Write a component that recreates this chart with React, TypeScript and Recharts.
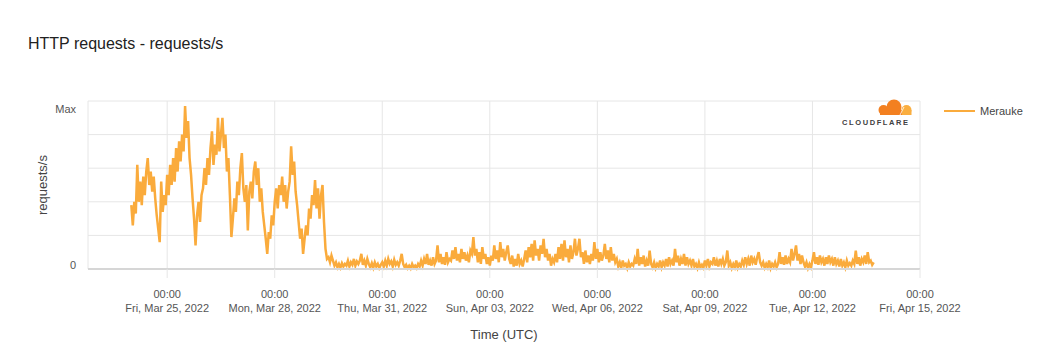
import React from "react";
import { LineChart, Line, XAxis, YAxis, CartesianGrid } from "recharts";

// hourly readings from Mar 24 00:00 UTC (share of max, 0-100)
const peakStart = Date.UTC(2022, 2, 24, 0);
const peakValues = [
  38, 26, 40, 33, 62, 40, 52, 38, 55, 44, 58, 66, 50, 58, 46, 55, 42, 32, 24, 16, 52, 34, 44, 38,
  56, 44, 62, 50, 66, 52, 72, 58, 76, 64, 80, 70, 97, 78, 88, 66, 56, 42, 30, 14,
  32, 40, 28, 44, 48, 60, 50, 66, 56, 72, 82, 62, 74, 68, 90, 70, 80, 90, 72,
  80, 58, 66, 44, 19, 30, 42, 34, 52, 44, 60, 69, 48, 40, 50, 23, 46, 52, 42, 58, 64, 50, 60, 40,
  48, 34, 26, 18, 9, 22, 18, 32, 26, 40, 48, 36, 50, 44, 55, 40, 50, 36, 46, 52, 73, 56, 64, 46,
  38, 28, 18, 24, 9, 18, 26, 20, 36, 30, 44, 38, 53, 36, 48, 30, 44, 50, 28, 12, 6,
];

// hourly readings after the drop, from Mar 29 12:00 UTC
const lowStart = Date.UTC(2022, 2, 29, 12);
const lowValues = [
  7, 4, 8, 5, 2, 4, 1, 3, 0.8, 3.5, 1.5, 3, 2, 5, 1.5, 4, 2.5, 6, 2, 4.5, 3, 5, 9, 2.5,
  5, 2, 6, 3, 1, 3.5, 0.8, 4, 1.5, 3, 0.6, 2.5, 4, 1.5, 5, 2, 6, 3, 4.5, 1.5, 5.5, 2.5, 4, 2,
  5, 9, 3, 1, 2.5, 0.5, 2, 0.4, 3, 1, 2, 0.5, 3, 1.5, 5, 2, 6, 3, 9, 2.5, 5, 2, 7, 3,
  5, 14, 4, 9, 3, 7, 2.5, 10, 4, 6, 5, 11, 6, 13, 5, 9, 4, 12, 6, 10, 5, 8, 4, 11,
  9, 19, 8, 12, 4, 10, 3, 13, 6, 9, 3, 7, 2, 8, 5, 14, 6, 11, 4, 16, 7, 12, 5, 10,
  14, 6, 3, 8, 1.5, 6, 2, 9, 3, 5, 1.5, 6, 11, 4, 13, 7, 15, 5, 17, 8, 12, 5, 14, 9,
  18, 7, 12, 5, 9, 2, 6, 4, 9, 4, 13, 6, 15, 5, 17, 7, 12, 4, 14, 6, 10, 18, 8, 12,
  18, 7, 10, 3, 11, 4, 8, 3, 9, 5, 16, 6, 12, 4, 10, 5, 8, 15, 6, 11, 4, 13, 5, 9,
  4, 6, 1.5, 4, 0.8, 5, 2, 3, 0.5, 4, 1.5, 3, 2, 6, 3, 12, 2, 7, 3, 8, 1.5, 5, 2, 11,
  3, 1, 4, 0.6, 3, 1.5, 5, 1, 4, 2, 6, 1.5, 7, 3, 5, 2, 12, 4, 8, 2, 6, 3, 9, 2,
  7, 3, 5, 2, 6, 1.5, 3, 0.6, 4, 1, 2.5, 0.8, 5, 2, 6, 1.5, 4, 3, 7, 2, 5, 1.5, 6, 3,
  6, 2, 4, 11, 2, 4, 0.6, 3, 1, 5, 0.8, 3, 1.5, 5, 2.5, 7, 3, 6, 2, 8, 4, 6, 2.5, 7,
  10, 4, 2, 4, 0.8, 3, 1, 5, 0.5, 3, 1.5, 4, 1, 3, 10, 3, 7, 2.5, 8, 3, 6, 4, 12, 5,
  9, 14, 5, 9, 3, 8, 4, 1.5, 4, 0.6, 3, 1, 5, 10, 3, 7, 2.5, 8, 4, 6, 2, 7, 3, 8,
  4, 6, 2, 7, 3, 5, 1.5, 6, 2, 4, 1, 5, 2, 3.5, 2, 5, 3, 11, 3, 7, 2, 6, 4, 8,
  3, 10, 4, 5, 2.5, 4,
];

const xTicks = [
  Date.UTC(2022, 2, 25), Date.UTC(2022, 2, 28), Date.UTC(2022, 2, 31), Date.UTC(2022, 3, 3),
  Date.UTC(2022, 3, 6), Date.UTC(2022, 3, 9), Date.UTC(2022, 3, 12), Date.UTC(2022, 3, 15),
];
const xTickLabels = [
  "Fri, Mar 25, 2022", "Mon, Mar 28, 2022", "Thu, Mar 31, 2022", "Sun, Apr 03, 2022",
  "Wed, Apr 06, 2022", "Sat, Apr 09, 2022", "Tue, Apr 12, 2022", "Fri, Apr 15, 2022",
];
const yTicks = [0, 20, 40, 60, 80, 100];

const HOUR = 3600000;
const data = [
  ...peakValues.map((v, i) => ({ t: peakStart + i * HOUR, v })),
  ...lowValues.map((v, i) => ({ t: lowStart + i * HOUR, v })),
];

const FONT = '"Liberation Sans", Arial, Helvetica, sans-serif';
const ORANGE = "#faab3c";

const XTick = (props: any) => {
  const { x, y, payload } = props;
  const idx = xTicks.indexOf(payload.value);
  return (
    <g transform={`translate(${x},${y})`}>
      <text textAnchor="middle" fill="#555" fontSize={11} fontFamily={FONT}>
        <tspan x={0} dy={18}>00:00</tspan>
        <tspan x={0} dy={14}>{xTickLabels[idx]}</tspan>
      </text>
    </g>
  );
};

const YTick = (props: any) => {
  const { x, y, payload } = props;
  if (payload.value !== 0 && payload.value !== 100) return null;
  return (
    <text x={x} y={y} dy={payload.value === 100 ? 12 : 0} textAnchor="end" fill="#555" fontSize={11} fontFamily={FONT}>
      {payload.value === 100 ? "Max" : "0"}
    </text>
  );
};

export default function App() {
  return (
    <div style={{ position: "absolute", left: 0, top: 0, width: 1040, height: 357, background: "#fff", fontFamily: FONT }}>
      <div style={{ position: "absolute", left: 28, top: 35, fontSize: 16, lineHeight: "18px", color: "#222" }}>
        HTTP requests - requests/s
      </div>
      <LineChart width={1040} height={357} data={data} margin={{ top: 101, right: 120, bottom: 48, left: 0 }}>
        <CartesianGrid stroke="#e6e6e6" />
        <XAxis
          dataKey="t"
          type="number"
          domain={[Date.UTC(2022, 2, 22, 19), Date.UTC(2022, 3, 15)]}
          ticks={xTicks}
          interval={0}
          tick={<XTick />}
          height={40}
          tickSize={9}
          tickLine={{ stroke: "#e6e6e6" }}
          axisLine={{ stroke: "#d6d6d6", strokeWidth: 2 }}
          allowDataOverflow
        />
        <YAxis
          domain={[0, 100]}
          ticks={yTicks}
          width={88}
          tick={<YTick />}
          tickSize={0}
          tickMargin={12}
          axisLine={false}
          tickLine={false}
        />
        <Line type="linear" dataKey="v" stroke={ORANGE} strokeWidth={2.5} dot={false} isAnimationActive={false} />
      </LineChart>
      <div
        style={{
          position: "absolute", left: -7, top: 177, width: 100, textAlign: "center",
          fontSize: 13, lineHeight: "16px", color: "#444", transform: "rotate(-90deg)",
        }}
      >
        requests/s
      </div>
      <div style={{ position: "absolute", left: 404, top: 327, width: 200, textAlign: "center", fontSize: 13, lineHeight: "16px", color: "#444" }}>
        Time (UTC)
      </div>
      <div style={{ position: "absolute", left: 944, top: 110, width: 31, height: 2, background: ORANGE }} />
      <div style={{ position: "absolute", left: 980, top: 104, fontSize: 11, lineHeight: "14px", color: "#444" }}>Merauke</div>
      <svg style={{ position: "absolute", left: 838, top: 96 }} width={80} height={32}>
        <circle cx={56} cy={11} r={7.5} fill="#f38020" />
        <circle cx={45.5} cy={14} r={5} fill="#f38020" />
        <rect x={42} y={14} width={24} height={5} fill="#f38020" />
        <circle cx={68.5} cy={14} r={5} fill="#faae40" />
        <rect x={64} y={14} width={9.5} height={5} fill="#faae40" />
        <line x1={62} y1={19} x2={66} y2={11} stroke="#fff" strokeWidth={0.8} />
        <text x={4} y={29} fontSize={7.5} fontWeight="bold" letterSpacing={1.6} fill="#404041" fontFamily={FONT}>
          CLOUDFLARE
        </text>
      </svg>
    </div>
  );
}
